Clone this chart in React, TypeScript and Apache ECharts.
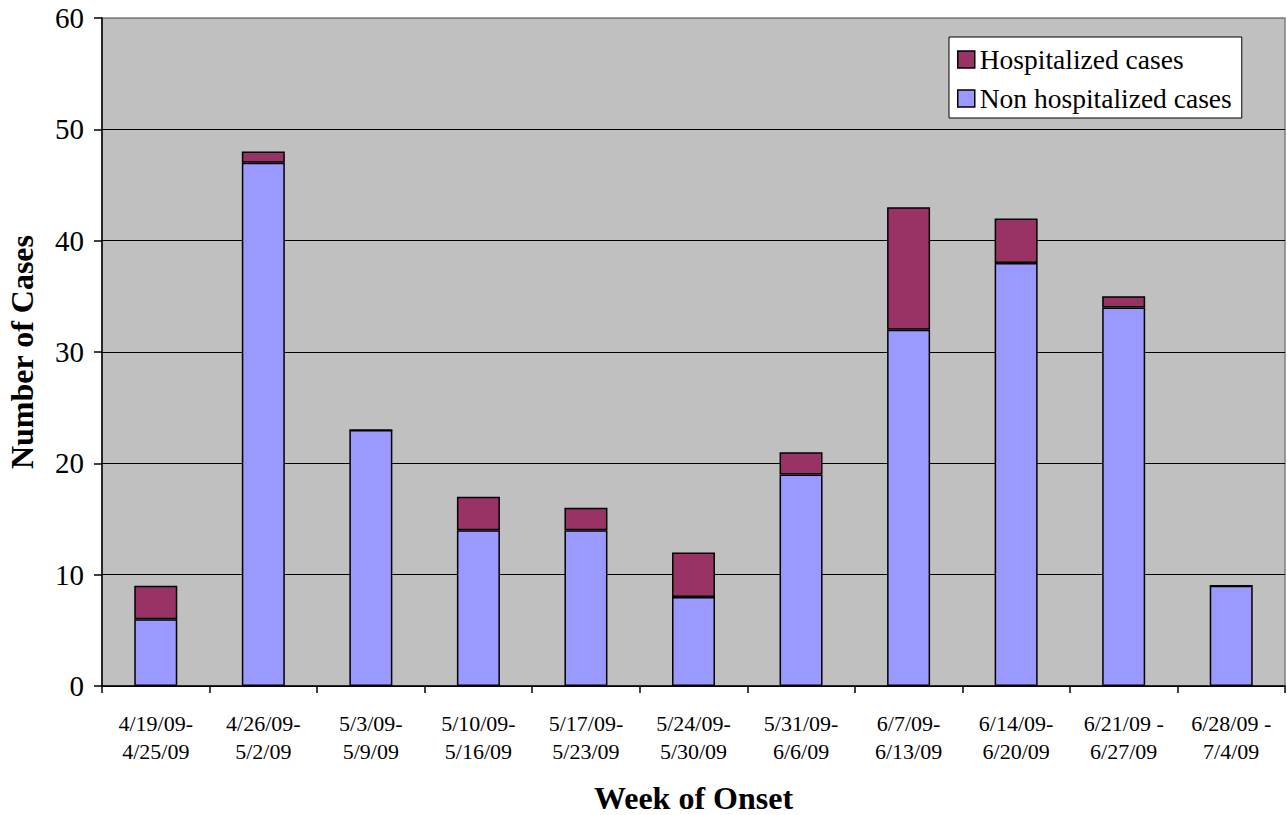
import React, { useEffect, useRef } from "react";
import * as echarts from "echarts";

const categories = [
  "4/19/09-\n4/25/09",
  "4/26/09-\n5/2/09",
  "5/3/09-\n5/9/09",
  "5/10/09-\n5/16/09",
  "5/17/09-\n5/23/09",
  "5/24/09-\n5/30/09",
  "5/31/09-\n6/6/09",
  "6/7/09-\n6/13/09",
  "6/14/09-\n6/20/09",
  "6/21/09 -\n6/27/09",
  "6/28/09 -\n7/4/09",
];
const nonHospitalized = [6, 47, 23, 14, 14, 8, 19, 32, 38, 34, 9];
const hospitalized = [3, 1, 0, 3, 2, 4, 2, 11, 4, 1, 0];

const FONT = "'Liberation Serif', 'Times New Roman', serif";

export default function App() {
  const ref = useRef<HTMLDivElement>(null);
  useEffect(() => {
    if (!ref.current) return;
    const chart = echarts.init(ref.current, null, { renderer: "svg" });
    chart.setOption({
      animation: false,
      textStyle: { fontFamily: FONT, color: "#000" },
      grid: {
        left: 102,
        right: 2,
        top: 18,
        bottom: 129,
        show: true,
        containLabel: false,
        outerBoundsMode: "none",
        backgroundColor: "#C0C0C0",
        borderColor: "#808080",
        borderWidth: 1.5,
      },
      legend: {
        orient: "vertical",
        left: 949,
        top: 37,
        backgroundColor: "#FFFFFF",
        borderColor: "#000",
        borderWidth: 1,
        padding: [8, 10, 5, 8],
        itemGap: 10,
        itemWidth: 17,
        itemHeight: 17,
        icon: "rect",
        data: [
          { name: "Hospitalized cases", icon: "rect", itemStyle: { color: "#993366", borderColor: "#000", borderWidth: 1.5 } },
          { name: "Non hospitalized cases", icon: "rect", itemStyle: { color: "#9999FF", borderColor: "#000", borderWidth: 1.5 } },
        ],
        textStyle: { fontFamily: FONT, fontSize: 27.5, color: "#000", lineHeight: 29 },
      },
      xAxis: {
        type: "category",
        data: categories,
        name: "Week of Onset",
        nameLocation: "middle",
        nameGap: 95,
        nameTextStyle: { fontFamily: FONT, fontSize: 32, fontWeight: "bold", color: "#000", lineHeight: 34 },
        axisLine: { lineStyle: { color: "#000", width: 1.5 } },
        axisTick: { show: true, length: 7, lineStyle: { color: "#000", width: 1.5 } },
        axisLabel: {
          fontFamily: FONT,
          fontSize: 22,
          color: "#000",
          lineHeight: 28,
          margin: 23,
          interval: 0,
        },
      },
      yAxis: {
        type: "value",
        min: 0,
        max: 60,
        interval: 10,
        name: "Number of Cases",
        nameLocation: "middle",
        nameGap: 64,
        nameTextStyle: { fontFamily: FONT, fontSize: 32, fontWeight: "bold", color: "#000" },
        axisLine: { show: true, lineStyle: { color: "#000", width: 1.5 } },
        axisTick: { show: true, length: 8, lineStyle: { color: "#000", width: 1.5 } },
        axisLabel: { fontFamily: FONT, fontSize: 29, color: "#000", margin: 18 },
        splitLine: {
          show: true,
          lineStyle: {
            color: ["#000", "#000", "#000", "#000", "#000", "#000", "#808080"],
            width: 1,
          },
        },
      },
      series: [
        {
          name: "Non hospitalized cases",
          type: "bar",
          stack: "total",
          data: nonHospitalized,
          barWidth: 43,
          itemStyle: { color: "#9999FF", borderColor: "#000", borderWidth: 1.5 },
        },
        {
          name: "Hospitalized cases",
          type: "bar",
          stack: "total",
          data: hospitalized,
          barWidth: 43,
          itemStyle: { color: "#993366", borderColor: "#000", borderWidth: 1.5 },
        },
      ],
    });
    return () => chart.dispose();
  }, []);
  return (
    <div
      ref={ref}
      style={{ position: "absolute", left: 0, top: 0, width: 1287, height: 815 }}
    />
  );
}
